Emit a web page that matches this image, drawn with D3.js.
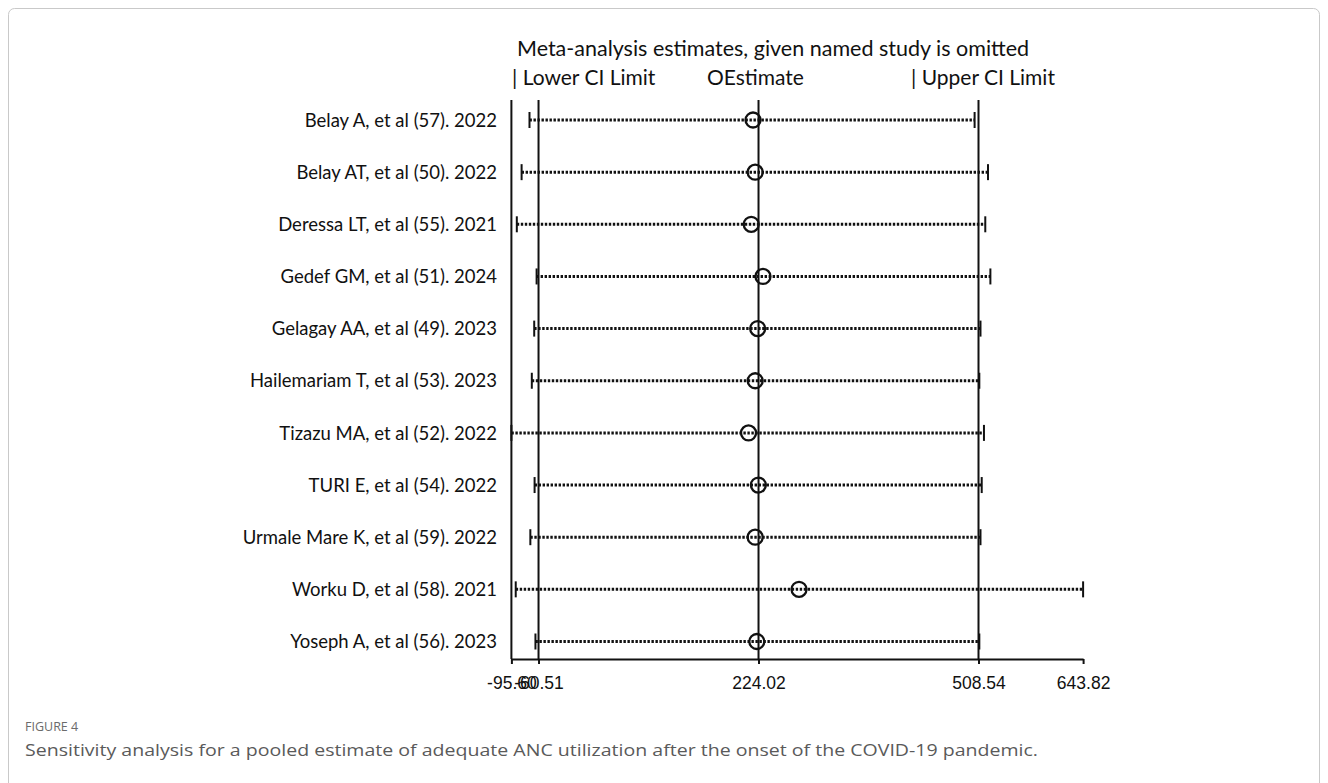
<!DOCTYPE html>
<html>
<head>
<meta charset="utf-8">
<script src="https://cdn.jsdelivr.net/npm/d3@7"></script>
<style>
  html, body { margin: 0; padding: 0; background: #fff; }
  svg { display: block; }
</style>
</head>
<body>
<svg id="chart" width="1328" height="783"></svg>
<script>
// ---- Data ----
const studies = [
  "Belay A, et al (57). 2022",
  "Belay AT, et al (50). 2022",
  "Deressa LT, et al (55). 2021",
  "Gedef GM, et al (51). 2024",
  "Gelagay AA, et al (49). 2023",
  "Hailemariam T, et al (53). 2023",
  "Tizazu MA, et al (52). 2022",
  "TURI E, et al (54). 2022",
  "Urmale Mare K, et al (59). 2022",
  "Worku D, et al (58). 2021",
  "Yoseph A, et al (56). 2023"
];
const estimates = [216.9, 219.7, 214.6, 229.8, 222.9, 219.7, 211.1, 223.8, 219.7, 276.4, 221.8];
const lowerCI   = [-72.2, -82.4, -88.6, -63.0, -66.1, -69.2, -95.6, -65.6, -71.1, -90.0, -64.5];
const upperCI   = [503.5, 520.8, 517.3, 523.9, 511.1, 509.6, 515.6, 512.7, 511.1, 643.82, 509.6];

const pooled = { lower: -60.51, estimate: 224.02, upper: 508.54 };
const tickValues = [-95.6, -60.51, 224.02, 508.54, 643.82];
const tickLabels = ["-95.60", "-60.51", "224.02", "508.54", "643.82"];

const titleText = "Meta-analysis estimates, given named study is omitted";
const legendItems = ["| Lower CI Limit", "OEstimate", "| Upper CI Limit"];
const figureLabel = "FIGURE 4";
const captionText = "Sensitivity analysis for a pooled estimate of adequate ANC utilization after the onset of the COVID-19 pandemic.";

// ---- Layout ----
const svg = d3.select("#chart");
const plot = { left: 511.4, right: 1083.1, top: 100, rowTop: 120, rowBottom: 641.5, axisY: 659 };
const labelFont = "Lato, 'Open Sans', sans-serif";

// frame
svg.append("rect")
  .attr("x", 8.5).attr("y", 8.5).attr("width", 1311).attr("height", 800)
  .attr("rx", 6).attr("fill", "none").attr("stroke", "#c9c9c9").attr("stroke-width", 1);

const x = d3.scaleLinear().domain([tickValues[0], tickValues[tickValues.length - 1]])
  .range([plot.left, plot.right]);
const y = d3.scalePoint().domain(studies).range([plot.rowTop, plot.rowBottom]);

// header
svg.append("text")
  .attr("x", 517).attr("y", 56)
  .attr("font-family", labelFont).attr("font-size", 21.5).attr("fill", "#111")
  .text(titleText);

const legendX = [512, 707, 911];
svg.selectAll("text.legend").data(legendItems).join("text")
  .attr("class", "legend")
  .attr("x", (d, i) => legendX[i]).attr("y", 85)
  .attr("font-family", labelFont).attr("font-size", 21).attr("fill", "#111")
  .text(d => d);

// left frame line of plot
svg.append("line")
  .attr("x1", x(tickValues[0])).attr("x2", x(tickValues[0]))
  .attr("y1", plot.top).attr("y2", plot.axisY)
  .attr("stroke", "#111").attr("stroke-width", 2);

// pooled reference lines
svg.selectAll("line.ref").data([pooled.lower, pooled.estimate, pooled.upper]).join("line")
  .attr("class", "ref")
  .attr("x1", d => x(d)).attr("x2", d => x(d))
  .attr("y1", plot.top).attr("y2", plot.axisY)
  .attr("stroke", "#111").attr("stroke-width", 2);

// rows
const rows = studies.map((s, i) => ({ s, est: estimates[i], lo: lowerCI[i], hi: upperCI[i] }));

svg.selectAll("line.ci").data(rows).join("line")
  .attr("class", "ci")
  .attr("x1", d => x(d.lo)).attr("x2", d => x(d.hi))
  .attr("y1", d => y(d.s)).attr("y2", d => y(d.s))
  .attr("stroke", "#111").attr("stroke-width", 3).attr("stroke-dasharray", "2.4,1.6");

svg.selectAll("line.lo").data(rows).join("line")
  .attr("class", "lo")
  .attr("x1", d => x(d.lo)).attr("x2", d => x(d.lo))
  .attr("y1", d => y(d.s) - 8).attr("y2", d => y(d.s) + 8)
  .attr("stroke", "#111").attr("stroke-width", 2);

svg.selectAll("line.hi").data(rows).join("line")
  .attr("class", "hi")
  .attr("x1", d => x(d.hi)).attr("x2", d => x(d.hi))
  .attr("y1", d => y(d.s) - 8).attr("y2", d => y(d.s) + 8)
  .attr("stroke", "#111").attr("stroke-width", 2);

svg.selectAll("circle.est").data(rows).join("circle")
  .attr("class", "est")
  .attr("cx", d => x(d.est)).attr("cy", d => y(d.s)).attr("r", 7.5)
  .attr("fill", "none").attr("stroke", "#111").attr("stroke-width", 2.3);

// row labels
svg.selectAll("text.study").data(rows).join("text")
  .attr("class", "study")
  .attr("x", 497).attr("y", d => y(d.s)).attr("dy", "0.36em")
  .attr("text-anchor", "end")
  .attr("font-family", labelFont).attr("font-size", 18.5).attr("fill", "#111")
  .text(d => d.s);

// x axis
const axis = d3.axisBottom(x)
  .tickValues(tickValues)
  .tickFormat((d, i) => tickLabels[i])
  .tickSize(5).tickSizeOuter(0).tickPadding(13);
const gx = svg.append("g").attr("transform", `translate(0,${plot.axisY})`).call(axis);
gx.select(".domain").attr("stroke", "#111").attr("stroke-width", 2);
gx.selectAll(".tick line").attr("stroke", "#111").attr("stroke-width", 2);
gx.selectAll(".tick text")
  .attr("font-family", "'Liberation Sans', Arial, sans-serif")
  .attr("font-size", 17.5).attr("fill", "#111");

// caption
svg.append("text")
  .attr("x", 25).attr("y", 731)
  .attr("font-family", "'Open Sans', 'Noto Sans', sans-serif")
  .attr("font-size", 12.5).attr("fill", "#6b6b6b")
  .text(figureLabel);
svg.append("text")
  .attr("x", 25).attr("y", 756)
  .attr("font-family", "'Open Sans', 'Noto Sans', sans-serif")
  .attr("font-size", 17).attr("fill", "#5a5a5a")
  .attr("textLength", 1013).attr("lengthAdjust", "spacingAndGlyphs")
  .text(captionText);
</script>
</body>
</html>
